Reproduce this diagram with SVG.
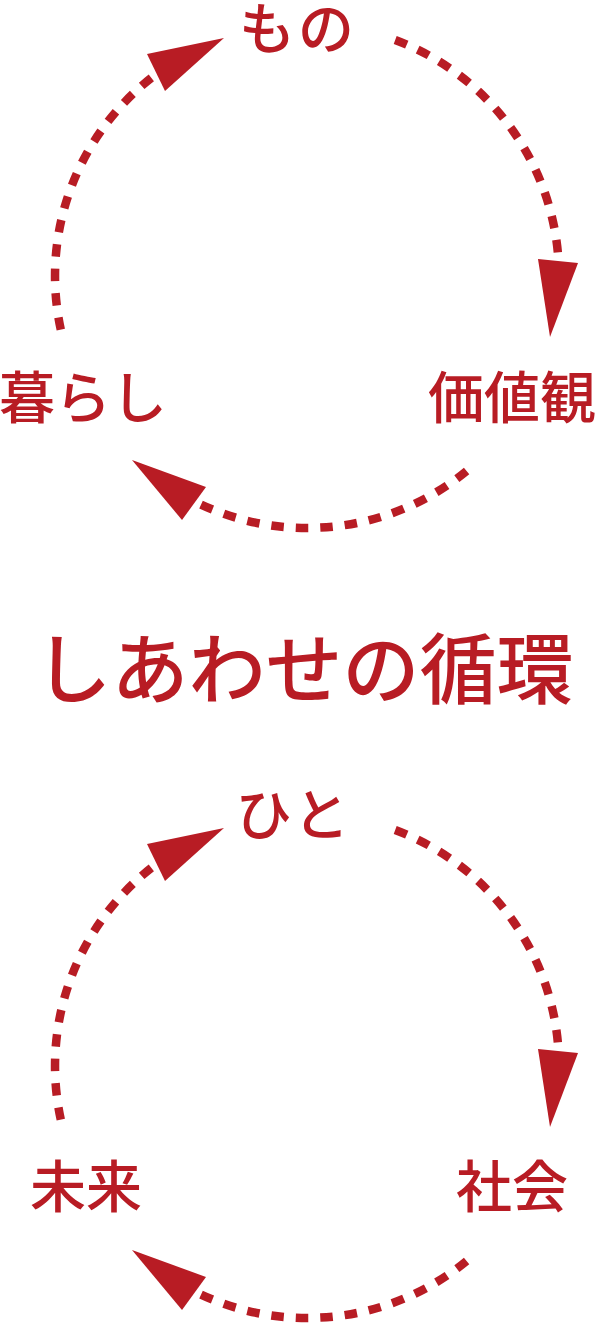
<svg xmlns="http://www.w3.org/2000/svg" width="600" height="1324" viewBox="0 0 600 1324">
<style>
.lbl{font-family:"Noto Sans CJK JP","Noto Sans CJK SC",sans-serif;font-size:56px;font-weight:500;fill:#b81c24;text-anchor:middle}
.title{font-family:"Noto Sans CJK JP","Noto Sans CJK SC",sans-serif;font-size:77px;font-weight:500;fill:#b81c24;text-anchor:middle}
.arc{fill:none;stroke:#b81c24;stroke-width:8.5;stroke-dasharray:12.5 12}
.head{fill:#b81c24}
</style>
<rect width="600" height="1324" fill="#fff"/>
<g id="connectors">
  <g id="cycle-top">
    <path class="arc" d="M60.8,329.7 A252,252 0 0 1 156.8,73.7"/>
    <polygon class="head" points="147,54 224,38 165,91"/>
    <path class="arc" d="M395.2,39.9 A252,252 0 0 1 558.5,261.1"/>
    <polygon class="head" points="538,259 578,263 550,337"/>
    <path class="arc" d="M466.6,471 A252,252 0 0 1 195,501.7"/>
    <polygon class="head" points="132,460 206,487 182,520"/>
  </g>
  <g id="cycle-bottom" transform="translate(0,790)">
    <path class="arc" d="M60.8,329.7 A252,252 0 0 1 156.8,73.7"/>
    <polygon class="head" points="147,54 224,38 165,91"/>
    <path class="arc" d="M395.2,39.9 A252,252 0 0 1 558.5,261.1"/>
    <polygon class="head" points="538,259 578,263 550,337"/>
    <path class="arc" d="M466.6,471 A252,252 0 0 1 195,501.7"/>
    <polygon class="head" points="132,460 206,487 182,520"/>
  </g>
</g>
<g id="node-mono"><text class="lbl" x="298" y="49" letter-spacing="3">もの</text></g>
<g id="node-kachikan"><text class="lbl" x="512" y="418">価値観</text></g>
<g id="node-kurashi"><text class="lbl" x="83" y="418">暮らし</text></g>
<g id="title"><text class="title" x="304" y="698">しあわせの循環</text></g>
<g id="node-hito"><text class="lbl" x="294" y="835" letter-spacing="3">ひと</text></g>
<g id="node-shakai"><text class="lbl" x="512" y="1207">社会</text></g>
<g id="node-mirai"><text class="lbl" x="86" y="1207">未来</text></g>
</svg>
